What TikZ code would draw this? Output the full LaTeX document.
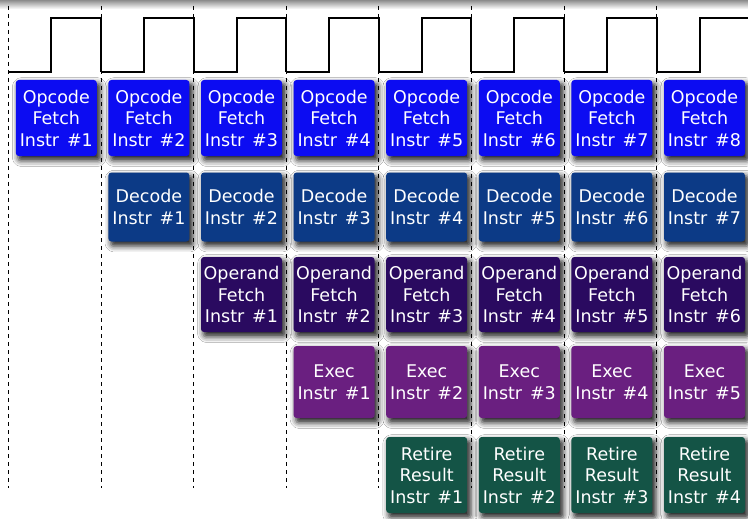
\documentclass[tikz,border=0pt]{standalone}
\usepackage{fontspec}
\setmainfont{DejaVu Sans}
\usetikzlibrary{shadows.blur}
\definecolor{cfetch}{RGB}{12,12,242}
\definecolor{cdecode}{RGB}{12,58,134}
\definecolor{coperand}{RGB}{42,10,96}
\definecolor{cexec}{RGB}{106,31,128}
\definecolor{cretire}{RGB}{20,84,70}
\newcommand{\instr}[1]{Instr\hspace{0.45em}\##1}
\begin{document}
\begin{tikzpicture}[x=1pt,y=-1pt,
  stage/.style={rounded corners=3pt, text=white, align=center,
    minimum width=81pt, inner sep=0pt,
    font=\fontsize{17.5}{21.5}\selectfont,
    blur shadow={shadow xshift=3pt, shadow yshift=-4pt,
      shadow blur radius=5.5pt, shadow opacity=85, shadow scale=1.02}},
  fetchbox/.style={stage, fill=cfetch, minimum height=76pt},
  decodebox/.style={stage, fill=cdecode, minimum height=69pt},
  operandbox/.style={stage, fill=coperand, minimum height=75pt},
  execbox/.style={stage, fill=cexec, minimum height=72pt},
  retirebox/.style={stage, fill=cretire, minimum height=76pt},
  clockline/.style={line width=2pt, line join=miter},
  gridline/.style={line width=0.8pt, dash pattern=on 4pt off 4pt}]
\useasboundingbox (0,0) rectangle (748,519);
\fill[white] (0,0) rectangle (748,519);
\shade[top color=black!45, bottom color=white] (0,0) rectangle (748,9);
% dashed grid lines
\foreach \k in {0,...,7}{
  \draw[gridline] ({8.3+92.6*\k},6) -- ({8.3+92.6*\k},488);
}
% clock
\foreach \k in {0,...,7}{
  \pgfmathsetmacro{\xa}{8.3+92.6*\k}
  \pgfmathsetmacro{\xb}{8.3+92.6*\k+43}
  \pgfmathsetmacro{\xc}{8.3+92.6*(\k+1)}
  \draw[clockline] (\xa,72) -- (\xb,72) -- (\xb,18) -- (\xc,18) -- (\xc,72);
}
% stages
\foreach \c in {1,...,8}{
  \pgfmathsetmacro{\xx}{56.3+92.6*(\c-1)}
  \node[fetchbox] (f\c) at (\xx,118) {Opcode\\Fetch\\\instr{\c}};
}
\foreach \c [evaluate=\c as \n using int(\c-1)] in {2,...,8}{
  \pgfmathsetmacro{\xx}{56.3+92.6*(\c-1)}
  \node[decodebox] (d\c) at (\xx,207) {Decode\\\instr{\n}};
}
\foreach \c [evaluate=\c as \n using int(\c-2)] in {3,...,8}{
  \pgfmathsetmacro{\xx}{56.3+92.6*(\c-1)}
  \node[operandbox] (o\c) at (\xx,294.5) {Operand\\Fetch\\\instr{\n}};
}
\foreach \c [evaluate=\c as \n using int(\c-3)] in {4,...,8}{
  \pgfmathsetmacro{\xx}{56.3+92.6*(\c-1)}
  \node[execbox] (e\c) at (\xx,382) {Exec\\\instr{\n}};
}
\foreach \c [evaluate=\c as \n using int(\c-4)] in {5,...,8}{
  \pgfmathsetmacro{\xx}{56.3+92.6*(\c-1)}
  \node[retirebox] (r\c) at (\xx,475) {Retire\\Result\\\instr{\n}};
}
\end{tikzpicture}
\end{document}
